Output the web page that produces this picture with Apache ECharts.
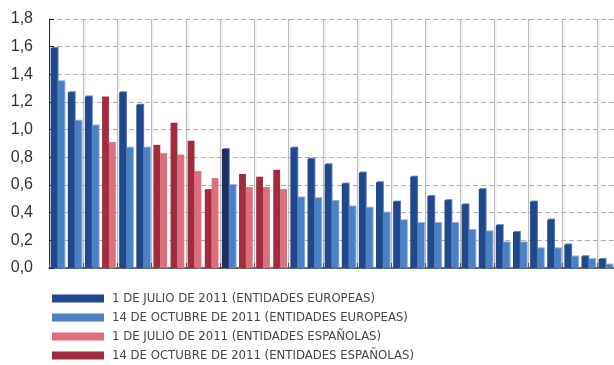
<!DOCTYPE html>
<html>
<head>
<meta charset="utf-8">
<script src="https://cdn.jsdelivr.net/npm/echarts@6/dist/echarts.min.js"></script>
<style>html,body{margin:0;padding:0;background:#fff}#c{width:614px;height:365px}</style>
</head>
<body>
<div id="c"></div>
<script>
// categories (unlabelled entities, ordered as in the source)
const categories = ['E1','E2','E3','S1','E4','E5','S2','S3','S4','S5','E6','S6','S7','S8','E7','E8','E9','E10','E11','E12','E13','E14','E15','E16','E17','E18','E19','E20','E21','E22','E23','E24','E25'];
// group of each category: EU = European entity, ES = Spanish entity
const groups = ['EU','EU','EU','ES','EU','EU','ES','ES','ES','ES','EU','ES','ES','ES','EU','EU','EU','EU','EU','EU','EU','EU','EU','EU','EU','EU','EU','EU','EU','EU','EU','EU','EU'];
// left bar of each pair
const leftValues = [1.59,1.27,1.24,1.24,1.27,1.18,0.89,1.05,0.92,0.57,0.86,0.68,0.66,0.71,0.87,0.79,0.75,0.61,0.69,0.62,0.48,0.66,0.52,0.49,0.46,0.57,0.31,0.26,0.48,0.35,0.17,0.085,0.065];
// right bar of each pair
const rightValues = [1.35,1.065,1.03,0.91,0.87,0.87,0.83,0.82,0.70,0.65,0.60,0.585,0.585,0.57,0.51,0.505,0.485,0.445,0.435,0.40,0.345,0.325,0.325,0.325,0.275,0.265,0.185,0.185,0.142,0.142,0.083,0.064,0.025];
// highlighted category (darker bar)
const highlighted = ['E6'];
const yTicks = ['0,0','0,2','0,4','0,6','0,8','1,0','1,2','1,4','1,6','1,8'];
const seriesNames = [
  '1 DE JULIO DE 2011 (ENTIDADES EUROPEAS)',
  '14 DE OCTUBRE DE 2011 (ENTIDADES EUROPEAS)',
  '1 DE JULIO DE 2011 (ENTIDADES ESPAÑOLAS)',
  '14 DE OCTUBRE DE 2011 (ENTIDADES ESPAÑOLAS)'
];
const colors = ['#21488b','#4b80c3','#dc6f7d','#a12c40'];
const navy = '#1f2f60';

const pick = (vals, g) => vals.map((v, i) => groups[i] === g ? v : '-');
const euLeft = leftValues.map((v, i) => groups[i] !== 'EU' ? '-' :
  (highlighted.includes(categories[i]) ? {value: v, itemStyle: {color: navy}} : v));

const narrow = "'Liberation Sans Narrow','DejaVu Sans Condensed',sans-serif";
const chart = echarts.init(document.getElementById('c'), null, {renderer: 'canvas'});
chart.setOption({
  animation: false,
  color: colors,
  grid: {left: 49, top: 19, right: -5, bottom: 97, containLabel: false},
  legend: {
    data: seriesNames, orient: 'vertical', left: 52, top: 291, padding: 0, height: 74,
    itemWidth: 52, itemHeight: 8, itemGap: 4, icon: 'rect', selectedMode: false,
    textStyle: {fontSize: 13, color: '#474747', fontFamily: narrow, lineHeight: 15, padding: [0,0,0,3]}
  },
  xAxis: {
    type: 'category', data: categories, boundaryGap: true,
    axisLabel: {show: false},
    axisLine: {lineStyle: {color: '#444', width: 1.5}},
    axisTick: {show: true, inside: true, length: 5, lineStyle: {color: '#555', width: 1}},
    splitLine: {show: true, lineStyle: {color: '#bcbcbc', width: 1, shadowColor: 'rgba(0,0,0,0.10)', shadowOffsetX: 1.5}}
  },
  yAxis: {
    type: 'value', min: 0, max: 1.8, interval: 0.2,
    axisLabel: {fontSize: 16, color: '#333', margin: 16, fontFamily: "'Liberation Sans',Arial,sans-serif",
      formatter: v => yTicks[Math.round(v / 0.2)]},
    axisLine: {show: true, lineStyle: {color: '#333', width: 1}},
    axisTick: {show: true, inside: true, length: 5, lineStyle: {color: '#222'}},
    splitLine: {show: true, lineStyle: {color: '#b0b0b0', type: [5, 3], width: 1}}
  },
  series: [
    {name: seriesNames[0], type: 'bar', stack: 'L', data: euLeft, barGap: '0%', barCategoryGap: '20%',
      itemStyle: {color: colors[0], shadowColor: '#5b7fbd', shadowOffsetX: 1, shadowOffsetY: -1}},
    {name: seriesNames[1], type: 'bar', stack: 'R', data: pick(rightValues, 'EU'),
      itemStyle: {color: colors[1], shadowColor: '#8eb0de', shadowOffsetX: 1, shadowOffsetY: -1}},
    {name: seriesNames[2], type: 'bar', stack: 'R', data: pick(rightValues, 'ES'),
      itemStyle: {color: colors[2]}},
    {name: seriesNames[3], type: 'bar', stack: 'L', data: pick(leftValues, 'ES'),
      itemStyle: {color: colors[3]}}
  ]
});
</script>
</body>
</html>
